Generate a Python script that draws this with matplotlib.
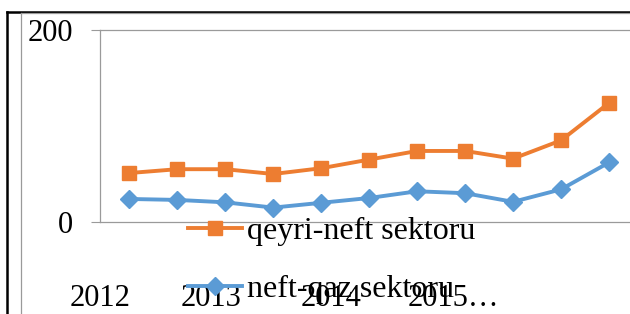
import matplotlib
matplotlib.use('Agg')
import matplotlib.pyplot as plt
from matplotlib.lines import Line2D

plt.rcParams['font.family'] = ['Liberation Serif', 'DejaVu Serif']

# data
x_labels = ['2012', '2013', '2014', '2015…']
x_label_pos = [-0.6, 1.7, 4.2, 6.75]
y_ticks = [0, 200]
qeyri_neft = [51, 55, 55, 50, 56, 65, 74, 74, 66, 85, 124]
neft_qaz = [24, 23, 20.5, 15, 20, 25, 32, 30, 21, 34, 62]
names = ['qeyri-neft sektoru', 'neft-qaz sektoru']

orange = '#ED7D31'
blue = '#5B9BD5'
grey = '#9a9a9a'
W, H = 630, 314

fig = plt.figure(figsize=(6.3, 3.14), dpi=100)
ax = fig.add_axes([100.5 / W, 1 - 222 / H, 532.5 / W, 192 / H])

xs = range(len(qeyri_neft))
ax.plot(xs, qeyri_neft, color=orange, lw=2.8, marker='s', markersize=10,
        label=names[0], zorder=3)
ax.plot(xs, neft_qaz, color=blue, lw=2.8, marker='D', markersize=9,
        label=names[1], zorder=3)

ax.set_xlim(-0.5, len(qeyri_neft) - 0.5)
ax.set_ylim(0, 200)
ax.set_yticks(y_ticks)
ax.set_xticks(x_label_pos, x_labels)
ax.tick_params(axis='y', length=6.5, width=0.8, color=grey, pad=13.5,
               labelsize=22)
ax.tick_params(axis='x', length=0, pad=45, labelsize=22)

for s in ['left', 'bottom', 'top']:
    ax.spines[s].set_color(grey)
    ax.spines[s].set_linewidth(0.9)
ax.spines['right'].set_visible(False)

ax.legend(loc='upper left', bbox_to_anchor=(188 / W, 1 - 217 / H),
          bbox_transform=fig.transFigure, frameon=False, fontsize=23,
          handlelength=1.7, handletextpad=0.16, labelspacing=0.9,
          borderpad=0, borderaxespad=0)

# chart frame lines
fig.add_artist(Line2D([7 / W, 7 / W], [0, 1 - 12 / H], color='black', lw=1.8,
                      transform=fig.transFigure))
fig.add_artist(Line2D([7 / W, 1], [1 - 12 / H, 1 - 12 / H], color='black',
                      lw=1.8, transform=fig.transFigure))
fig.add_artist(Line2D([21 / W, 21 / W], [0, 1 - 13 / H], color=grey, lw=0.9,
                      transform=fig.transFigure))
fig.add_artist(Line2D([21 / W, 1], [1 - 13 / H, 1 - 13 / H], color=grey,
                      lw=0.9, transform=fig.transFigure))

fig.savefig('out.png', dpi=100)
plt.close(fig)
